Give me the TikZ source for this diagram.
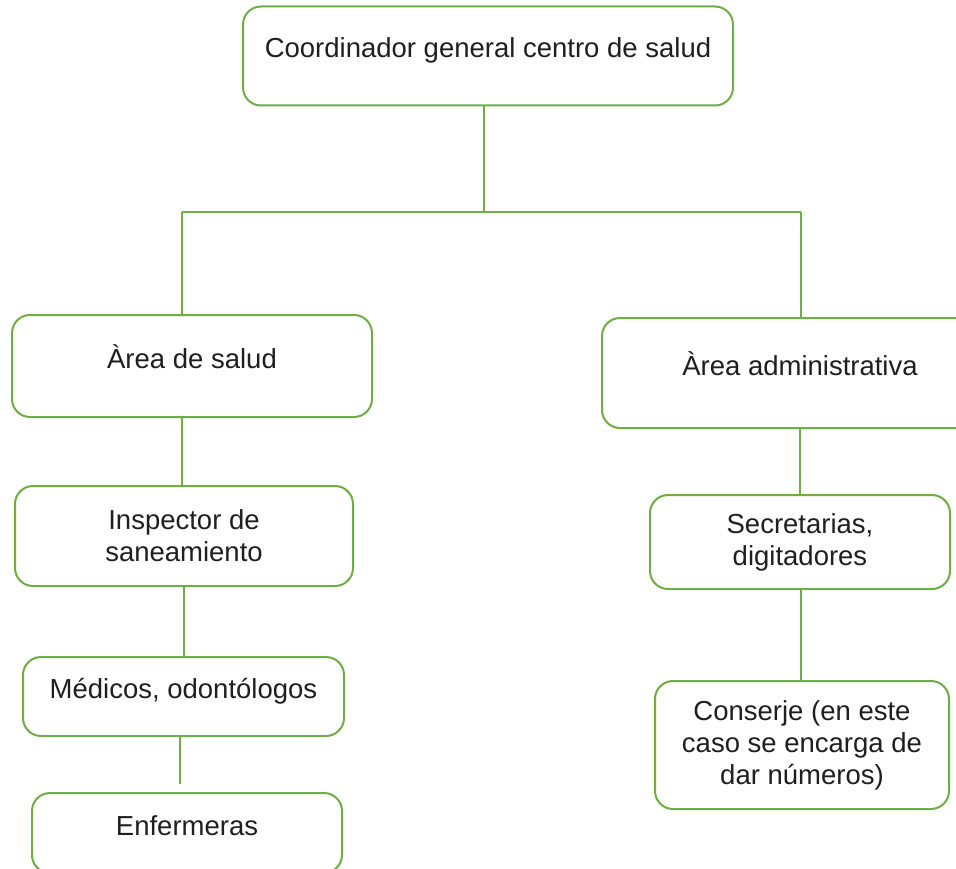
\documentclass[tikz,border=0pt]{standalone}
\usepackage{fontspec}
\setmainfont{Liberation Sans}
\definecolor{verde}{RGB}{112,173,71}
\begin{document}
\begin{tikzpicture}[x=1pt,y=-1pt]
  \tikzstyle{caja}=[draw=verde, line width=2pt, rounded corners=18pt, fill=white,
  text=black!88, align=center, inner sep=0pt, font=\fontsize{27.5}{32}\selectfont]
  \tikzstyle{una}=[text height=22pt, text depth=18pt]
  \tikzstyle{linea}=[draw=verde, line width=2pt]
  \useasboundingbox (0,0) rectangle (956,869);
  \clip (0,0) rectangle (956,869);
  % cajas
  \node[caja, una, minimum width=490pt, minimum height=99pt] (coord) at (488,56) {Coordinador general centro de salud};
  \node[caja, una, minimum width=360pt, minimum height=102pt] (salud) at (192,366) {Àrea de salud};
  \node[caja, una, minimum width=396pt, minimum height=110pt] (admin) at (800,373) {Àrea administrativa};
  \node[caja, minimum width=338pt, minimum height=100pt] (insp) at (184,536) {Inspector de\\saneamiento};
  \node[caja, una, minimum width=321pt, minimum height=79pt] (medicos) at (183.5,696.5) {Médicos, odontólogos};
  \node[caja, una, minimum width=310pt, minimum height=80pt] (enfer) at (187,833) {Enfermeras};
  \node[caja, minimum width=300pt, minimum height=94pt] (secre) at (800,542) {Secretarias,\\digitadores};
  \node[caja, minimum width=294pt, minimum height=128pt] (conserje) at (802,745) {Conserje (en este\\caso se encarga de\\dar números)};
  % conectores
  \coordinate (izq) at (182,212);
  \coordinate (der) at (801,212);
  \draw[linea] ([xshift=-4pt]coord.south) -- ([xshift=-4pt]coord.south |- izq);
  \draw[linea] (izq) -- (der);
  \draw[linea] (izq) -- (izq |- salud.north);
  \draw[linea] (der) -- (der |- admin.north);
  \foreach \a/\b/\d/\g in {salud/insp/-10/0, insp/medicos/0/0, medicos/enfer/-4/8,
    admin/secre/0/0, secre/conserje/1/0} {
    \draw[linea, shorten >=\g pt] ([xshift=\d pt]\a.south) -- ([xshift=\d pt]\a.south |- \b.north);
  }
\end{tikzpicture}
\end{document}
